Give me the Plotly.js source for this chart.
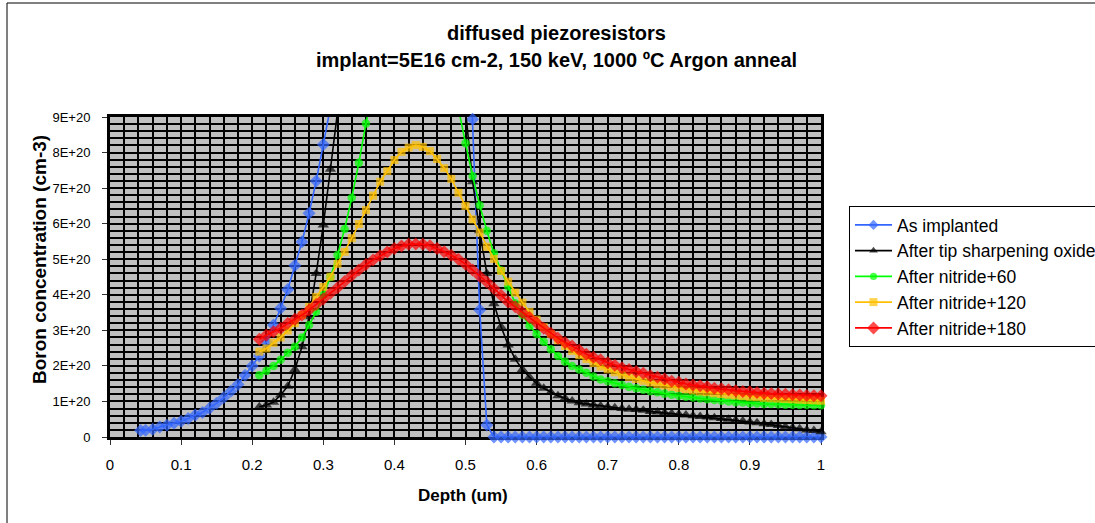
<!DOCTYPE html>
<html><head><meta charset="utf-8">
<script src="https://cdn.plot.ly/plotly-3.0.1.min.js"></script>
<style>html,body{margin:0;padding:0;background:#fff;}#chart{width:1095px;height:523px;}</style>
</head><body><div id="chart"></div>
<script>
// ---- data (concentrations in units of 1E+20 cm-3) ----
const depth = [0.21,0.22,0.23,0.24,0.25,0.26,0.27,0.28,0.29,0.30,
  0.31,0.32,0.33,0.34,0.35,0.36,0.37,0.38,0.39,0.40,
  0.41,0.42,0.43,0.44,0.45,0.46,0.47,0.48,0.49,0.50,
  0.51,0.52,0.53,0.54,0.55,0.56,0.57,0.58,0.59,0.60,
  0.61,0.62,0.63,0.64,0.65,0.66,0.67,0.68,0.69,0.70,
  0.71,0.72,0.73,0.74,0.75,0.76,0.77,0.78,0.79,0.80,
  0.81,0.82,0.83,0.84,0.85,0.86,0.87,0.88,0.89,0.90,
  0.91,0.92,0.93,0.94,0.95,0.96,0.97,0.98,0.99,1.00];

const implantDepth = [0.043,0.05,0.06,0.07,0.08,0.09,0.10,
  0.11,0.12,0.13,0.14,0.15,0.16,0.17,0.18,0.19,0.20,
  0.21,0.22,0.23,0.24,0.25,0.26,0.27,0.28,0.29,0.30,
  0.31,0.32,0.33,0.34,0.35,0.36,0.37,0.38,0.39,0.40,
  0.41,0.42,0.43,0.44,0.45,0.46,0.47,0.48,0.49,0.50,
  0.51,0.52,0.53,0.54,0.55,0.56,0.57,0.58,0.59,0.60,
  0.61,0.62,0.63,0.64,0.65,0.66,0.67,0.68,0.69,0.70,
  0.71,0.72,0.73,0.74,0.75,0.76,0.77,0.78,0.79,0.80,
  0.81,0.82,0.83,0.84,0.85,0.86,0.87,0.88,0.89,0.90,
  0.91,0.92,0.93,0.94,0.95,0.96,0.97,0.98,0.99,1.00];

const asImplanted = [0.18,0.19,0.22,0.28,0.33,0.39,0.44,
  0.52,0.62,0.69,0.81,0.95,1.11,1.29,1.48,1.74,2.00,
  2.28,2.68,3.15,3.62,4.15,4.82,5.49,6.29,7.20,8.23,
  9.35,10.5,11.8,13.0,14.2,15.3,16.2,17.0,17.6,18.0,
  18.5,19.0,19.2,19.3,19.2,19.0,18.5,17.8,16.5,14.0,
  8.94,3.57,0.34,0,0,0,0,0,0,0,
  0,0,0,0,0,0,0,0,0,0,
  0,0,0,0,0,0,0,0,0,0,
  0,0,0,0,0,0,0,0,0,0,
  0,0,0,0,0,0,0,0,0,0];

const tipOxide = [0.85,0.90,0.98,1.18,1.43,1.90,2.54,3.38,4.60,5.96,
  7.53,9.20,11.2,13.2,15.0,16.6,17.9,18.8,19.4,19.6,
  19.5,19.0,18.2,17.0,15.6,14.0,12.4,10.9,9.90,9.20,
  7.18,5.80,4.60,3.75,3.10,2.59,2.19,1.90,1.68,1.51,
  1.37,1.26,1.16,1.09,1.01,0.96,0.93,0.90,0.87,0.85,
  0.82,0.80,0.78,0.77,0.75,0.72,0.70,0.68,0.66,0.64,
  0.62,0.60,0.58,0.56,0.54,0.52,0.50,0.47,0.45,0.42,
  0.40,0.37,0.35,0.32,0.29,0.26,0.23,0.20,0.18,0.15];

const nitride60 = [1.74,1.86,2.00,2.17,2.37,2.54,2.80,3.15,3.52,3.99,
  4.50,5.12,5.85,6.73,7.71,8.82,9.90,10.8,11.5,12.0,
  12.3,12.4,12.3,12.0,11.6,11.1,10.5,9.90,9.25,8.26,
  7.34,6.52,5.80,5.17,4.68,4.23,3.76,3.43,3.13,2.90,
  2.68,2.47,2.28,2.12,2.00,1.90,1.81,1.70,1.62,1.57,
  1.51,1.46,1.41,1.37,1.33,1.29,1.26,1.22,1.19,1.16,
  1.13,1.11,1.08,1.06,1.04,1.02,1.00,0.98,0.97,0.95,
  0.94,0.93,0.93,0.92,0.91,0.91,0.90,0.90,0.89,0.89];

const nitride120 = [2.40,2.49,2.65,2.80,2.99,3.20,3.43,3.66,3.94,4.22,
  4.51,4.87,5.21,5.59,5.99,6.38,6.79,7.18,7.48,7.79,
  8.02,8.14,8.21,8.16,8.04,7.82,7.56,7.26,6.87,6.50,
  6.12,5.75,5.35,5.01,4.67,4.37,4.06,3.78,3.52,3.30,
  3.09,2.90,2.72,2.56,2.42,2.30,2.19,2.08,1.98,1.90,
  1.82,1.75,1.69,1.63,1.58,1.53,1.49,1.45,1.41,1.38,
  1.34,1.31,1.28,1.26,1.23,1.21,1.19,1.17,1.15,1.13,
  1.12,1.10,1.09,1.08,1.07,1.06,1.05,1.04,1.03,1.02];

const nitride180 = [2.75,2.87,2.96,3.06,3.20,3.31,3.43,3.57,3.73,3.88,
  4.04,4.20,4.37,4.54,4.70,4.85,4.98,5.10,5.20,5.30,
  5.37,5.42,5.43,5.42,5.38,5.30,5.21,5.11,5.00,4.86,
  4.70,4.52,4.36,4.18,3.99,3.80,3.66,3.50,3.36,3.21,
  3.06,2.92,2.78,2.66,2.56,2.45,2.33,2.24,2.17,2.09,
  2.02,1.95,1.90,1.84,1.79,1.72,1.68,1.63,1.57,1.54,
  1.49,1.46,1.44,1.41,1.37,1.36,1.33,1.30,1.28,1.27,
  1.25,1.23,1.22,1.21,1.20,1.19,1.18,1.17,1.16,1.16];

const seriesNames = ['As implanted','After tip sharpening oxide','After nitride+60','After nitride+120','After nitride+180'];
const xTickLabels = ['0','0.1','0.2','0.3','0.4','0.5','0.6','0.7','0.8','0.9','1'];
const yTickLabels = ['0','1E+20','2E+20','3E+20','4E+20','5E+20','6E+20','7E+20','8E+20','9E+20'];
const titleLines = ['diffused piezoresistors','implant=5E16 cm-2, 150 keV, 1000 ºC Argon anneal'];
const xTitle = 'Depth (um)';
const yTitle = 'Boron concentration (cm-3)';

// ---- layout helpers ----
const UNIT = 1e20;
const yVals = yTickLabels.map(s => parseFloat(s));
const xVals = xTickLabels.map(s => parseFloat(s));
const yMax = yVals[yVals.length-1];
const L = 110, R = 821, T = 117, B = 437;
const px = x => (x - L) / (R - L);
const py = y => (B - y) / (B - T);
const FONT = 'Arial, "Liberation Sans", sans-serif';

function mk(xs, vals, name, color, symbol, size, idx){
  const ys = vals.map(v => v * UNIT);
  return {
    x: xs, y: ys, name: name, type: 'scatter', mode: 'lines+markers',
    legendgroup: 'g' + idx, cliponaxis: false,
    line: {color: color, width: 1.6},
    marker: {color: color, symbol: symbol, size: ys.map(v => v > yMax ? 0 : size), line: {width: 0}}
  };
}

const traces = [
  mk(implantDepth, asImplanted, seriesNames[0], '#3366FF', 'diamond', 10, 0),
  mk(depth, tipOxide, seriesNames[1], '#000000', 'triangle-up', 10, 1),
  mk(depth, nitride60, seriesNames[2], '#00FF00', 'circle', 8.5, 2),
  mk(depth, nitride120, seriesNames[3], '#FFC000', 'square', 8, 3),
  mk(depth, nitride180, seriesNames[4], '#FF0000', 'diamond', 10, 4)
];

const layout = {
  width: 1095, height: 523,
  margin: {l: L, r: 1095 - R, t: T, b: 523 - B, autoexpand: false},
  paper_bgcolor: '#ffffff', plot_bgcolor: '#C0C0C0',
  font: {family: FONT, color: '#000'},
  showlegend: true,
  xaxis: {
    range: [0, 1], tickmode: 'array', tickvals: xVals, ticktext: xTickLabels,
    tickfont: {size: 15, family: FONT}, ticks: 'outside', ticklen: 5, tickcolor: '#333', tickwidth: 1,
    ticklabelstandoff: 7,
    showgrid: true, gridcolor: '#000', gridwidth: 2,
    minor: {tickmode: 'linear', tick0: 0, dtick: 0.02, showgrid: true, gridcolor: '#000', gridwidth: 2},
    showline: true, linecolor: '#000', linewidth: 3, mirror: true,
    zeroline: false, layer: 'below traces', fixedrange: true
  },
  yaxis: {
    range: [0, yMax], tickmode: 'array', tickvals: yVals, ticktext: yTickLabels,
    tickfont: {size: 13, family: FONT}, ticks: 'outside', ticklen: 5, tickcolor: '#333', tickwidth: 1,
    ticklabelstandoff: 9,
    showgrid: true, gridcolor: '#000', gridwidth: 2,
    minor: {tickmode: 'linear', tick0: 0, dtick: yMax / 45, showgrid: true, gridcolor: '#000', gridwidth: 2},
    showline: true, linecolor: '#000', linewidth: 3, mirror: true,
    zeroline: false, layer: 'below traces', fixedrange: true
  },
  legend: {
    x: px(849), y: py(206), xanchor: 'left', yanchor: 'top',
    bgcolor: '#ffffff', bordercolor: '#000', borderwidth: 1,
    font: {size: 17.5, family: FONT, color: '#000'},
    tracegroupgap: 2.5, itemwidth: 37, traceorder: 'normal'
  },
  annotations: [
    {text: '<b>' + titleLines[0] + '</b>', xref: 'paper', yref: 'paper', x: px(556), y: py(33),
     xanchor: 'center', yanchor: 'middle', showarrow: false, font: {size: 20, family: FONT}},
    {text: '<b>' + titleLines[1] + '</b>', xref: 'paper', yref: 'paper', x: px(556), y: py(60),
     xanchor: 'center', yanchor: 'middle', showarrow: false, font: {size: 20, family: FONT}},
    {text: '<b>' + xTitle + '</b>', xref: 'paper', yref: 'paper', x: px(463), y: py(495),
     xanchor: 'center', yanchor: 'middle', showarrow: false, font: {size: 17, family: FONT}},
    {text: '<b>' + yTitle + '</b>', xref: 'paper', yref: 'paper', x: px(39), y: py(260),
     xanchor: 'center', yanchor: 'middle', textangle: -90, showarrow: false, font: {size: 19, family: FONT}}
  ],
  shapes: [
    {type: 'rect', xref: 'paper', yref: 'paper', x0: px(7), x1: px(1120), y0: py(540), y1: py(3),
     line: {color: '#000', width: 1}, fillcolor: 'rgba(0,0,0,0)', layer: 'below'}
  ]
};

Plotly.newPlot('chart', traces, layout, {displayModeBar: false, staticPlot: true});
</script>
</body></html>
